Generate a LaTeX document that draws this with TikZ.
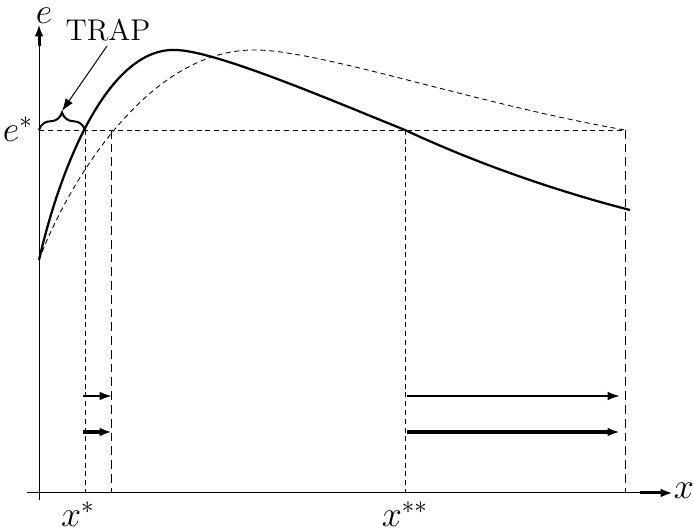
\documentclass[tikz,border=0pt]{standalone}
\usetikzlibrary{arrows.meta, positioning, decorations.pathreplacing}

\begin{document}
\begin{tikzpicture}[x=0.4pt, y=-0.4pt, font=\large,
    guia/.style={dash pattern=on 2pt off 1.5pt, line width=0.35pt},
    guialarga/.style={dash pattern=on 3.5pt off 2pt, line width=0.4pt},
    etiq/.style={font=\Large, inner sep=1pt},
    flecha/.style={-{Latex[length=5pt,width=3.5pt]}}]
    \useasboundingbox (0,0) rectangle (694,531);

    % Puntos principales
    \coordinate (origen) at (39,493);
    \coordinate (ebase) at (39,130);
    \coordinate (xa) at (85,130);
    \coordinate (xb) at (111,130);
    \coordinate (xc) at (405,130);
    \coordinate (xd) at (625,130);
    \coordinate (xabajo) at (85,493);
    \coordinate (xbabajo) at (111,493);
    \coordinate (xcabajo) at (405,493);
    \coordinate (xdabajo) at (625,493);

    % Ejes
    \draw[line width=0.4pt] (39,500) -- (39,40);
    \draw[line width=0.4pt] (27,493) -- (645,493);
    \coordinate (ypie) at (39,46);
    \coordinate (ypunta) at (39,24);
    \coordinate (xpie) at (640,493);
    \coordinate (xpunta) at (673,493);
    \draw[flecha, line width=1.2pt] (ypie) -- (ypunta);
    \draw[flecha, line width=1.2pt] (xpie) -- (xpunta);
    \node[etiq] (etiqe) at (44,16) {$e$};
    \node[etiq] (etiqx) at (684,491) {$x$};
    \node[etiq] (etiqestrella) at (18,129) {$e^{*}$};
    \node[etiq] (etiqxa) at (78,514) {$x^{*}$};
    \node[etiq] (etiqxc) at (405,514) {$x^{**}$};

    % Lineas guia
    \draw[guia] (ebase) -- (xd);
    \draw[guia] (xa) -- (xabajo);
    \draw[guialarga] (xb) -- (xbabajo);
    \draw[guia] (xc) -- (xcabajo);
    \draw[guialarga] (xd) -- (xdabajo);

    % Curvas
    \coordinate (inicio) at (39,260);
    \draw[line width=0.35pt, dash pattern=on 2pt off 1.5pt] (inicio)
        .. controls (65,190) and (145,49) .. (255,50)
        .. controls (320,50) and (480,105) .. (xd);
    \draw[line width=0.9pt] (inicio)
        .. controls (62,160) and (110,48) .. (175,50)
        .. controls (215,50) and (340,104) .. (xc)
        .. controls (480,165) and (560,192) .. (630,210);

    % Llave y etiqueta
    \draw[decorate, decoration={brace, amplitude=7pt}, line width=0.8pt] (ebase) -- (xa);
    \coordinate (llave) at (62,111);
    \node (trap) at (108,30) {TRAP};
    \coordinate (trapsal) at (107,46);
    \draw[flecha, line width=0.4pt] (trapsal) -- (llave);

    % Flechas de intervalo
    \coordinate (a1) at (83,396);
    \coordinate (b1) at (112,396);
    \coordinate (a2) at (83,432);
    \coordinate (b2) at (112,432);
    \coordinate (c1) at (407,396);
    \coordinate (d1) at (620,396);
    \coordinate (c2) at (407,432);
    \coordinate (d2) at (620,432);
    \draw[flecha, line width=0.8pt] (a1) -- (b1);
    \draw[flecha, line width=1.3pt] (a2) -- (b2);
    \draw[flecha, line width=0.8pt] (c1) -- (d1);
    \draw[flecha, line width=1.3pt] (c2) -- (d2);
\end{tikzpicture}
\end{document}
